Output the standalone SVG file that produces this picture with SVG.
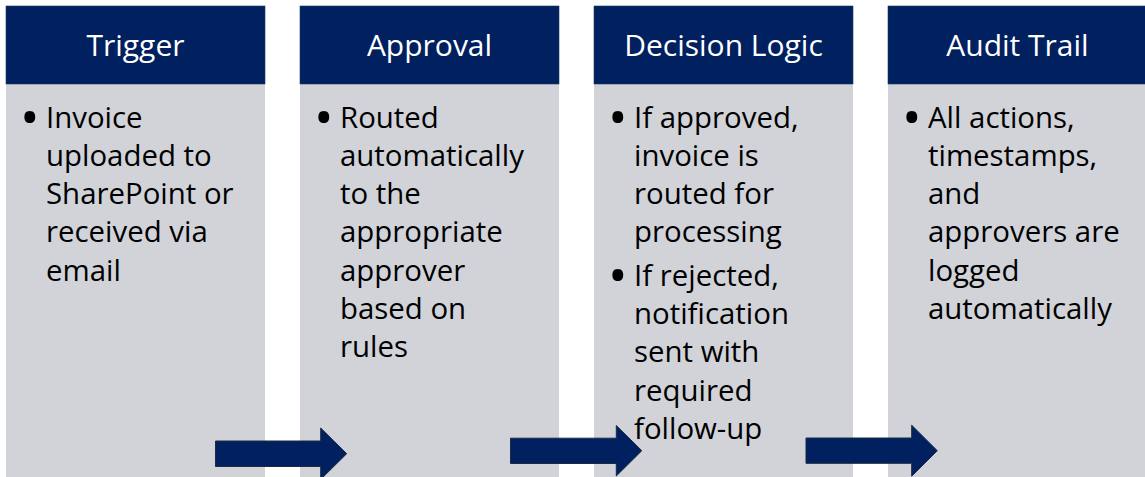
<svg xmlns="http://www.w3.org/2000/svg" width="1145" height="477" viewBox="0 0 1145 477">
<style>
.body{fill:#D1D3D8}
.head{fill:#002060;stroke:#1F3A5F;stroke-width:0.6}
.ht{font-family:"Open Sans","Noto Sans",sans-serif;font-size:30px;fill:#FFFFFF;text-anchor:middle}
.bt{font-family:"Open Sans","Noto Sans",sans-serif;font-size:29.4px;fill:#000000}
.bu{font-family:"Open Sans","Noto Sans",sans-serif;font-size:52px;fill:#000000}
.arrow{fill:#002060;stroke:#1B2A3E;stroke-width:1}
</style>
<rect width="1145" height="477" fill="#FFFFFF"/>
<g id="node-trigger">
<rect class="body" x="6" y="84" width="259" height="393"/>
<rect class="head" x="6" y="6" width="259" height="78"/>
<text class="ht" x="135.5" y="56">Trigger</text>
<text class="bu" x="20" y="136">•</text>
<text class="bt"><tspan x="46" y="127.5">Invoice</tspan><tspan x="46" y="165.8">uploaded to</tspan><tspan x="46" y="204.1">SharePoint or</tspan><tspan x="46" y="242.4">received via</tspan><tspan x="46" y="280.7">email</tspan></text>
</g>
<g id="node-approval">
<rect class="body" x="300" y="84" width="259" height="393"/>
<rect class="head" x="300" y="6" width="259" height="78"/>
<text class="ht" x="429.5" y="56">Approval</text>
<text class="bu" x="314" y="136">•</text>
<text class="bt"><tspan x="340" y="127.5">Routed</tspan><tspan x="340" y="165.8">automatically</tspan><tspan x="340" y="204.1">to the</tspan><tspan x="340" y="242.4">appropriate</tspan><tspan x="340" y="280.7">approver</tspan><tspan x="340" y="319">based on</tspan><tspan x="340" y="357.3">rules</tspan></text>
</g>
<g id="node-decision">
<rect class="body" x="594" y="84" width="259" height="393"/>
<rect class="head" x="594" y="6" width="259" height="78"/>
<text class="ht" x="723.5" y="56">Decision Logic</text>
<text class="bu" x="608" y="136">•</text>
<text class="bu" x="608" y="294.2">•</text>
<text class="bt"><tspan x="634" y="127.5">If approved,</tspan><tspan x="634" y="165.8">invoice is</tspan><tspan x="634" y="204.1">routed for</tspan><tspan x="634" y="242.4">processing</tspan><tspan x="634" y="285.7">If rejected,</tspan><tspan x="634" y="324">notification</tspan><tspan x="634" y="362.3">sent with</tspan><tspan x="634" y="400.6">required</tspan><tspan x="634" y="438.9">follow-up</tspan></text>
</g>
<g id="node-audit">
<rect class="body" x="888" y="84" width="260" height="393"/>
<rect class="head" x="888" y="6" width="260" height="78"/>
<text class="ht" x="1017.5" y="56">Audit Trail</text>
<text class="bu" x="902" y="136">•</text>
<text class="bt"><tspan x="928" y="127.5">All actions,</tspan><tspan x="928" y="165.8">timestamps,</tspan><tspan x="928" y="204.1">and</tspan><tspan x="928" y="242.4">approvers are</tspan><tspan x="928" y="280.7">logged</tspan><tspan x="928" y="319">automatically</tspan></text>
</g>
<g id="connectors">
<path class="arrow" d="M215.5,441 H320.7 V428 L346.7,453.7 L320.7,479.4 V466.5 H215.5 Z"/>
<path class="arrow" d="M510.5,438.2 H616.3 V425.5 L641.8,450.7 L616.3,476 V463.5 H510.5 Z"/>
<path class="arrow" d="M806,438 H911.7 V425.2 L937.3,450.7 L911.7,476.2 V463.3 H806 Z"/>
</g>
</svg>
